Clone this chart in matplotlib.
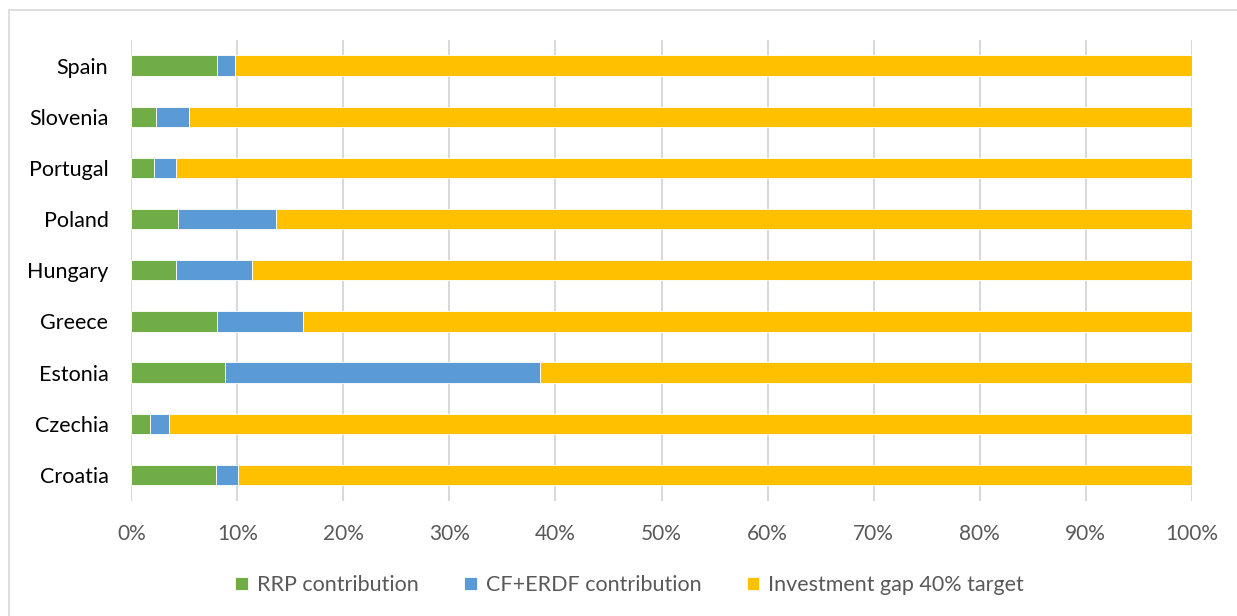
import matplotlib.pyplot as plt
import numpy as np
from matplotlib.patches import Rectangle
from matplotlib.ticker import PercentFormatter

plt.rcParams['font.family'] = ['Lato', 'DejaVu Sans']

countries = ['Croatia', 'Czechia', 'Estonia', 'Greece', 'Hungary',
             'Poland', 'Portugal', 'Slovenia', 'Spain']
rrp = [8.0, 1.8, 8.85, 8.05, 4.2, 4.45, 2.1, 2.3, 8.1]
cf_erdf = [2.1, 1.8, 29.65, 8.1, 7.15, 9.2, 2.1, 3.1, 1.65]
gap = [100 - a - b for a, b in zip(rrp, cf_erdf)]

series_names = ['RRP contribution', 'CF+ERDF contribution', 'Investment gap 40% target']
colors = ['#70ad47', '#5b9bd5', '#ffc000']

fig = plt.figure(figsize=(12.37, 6.16), dpi=100)
ax = fig.add_axes([131.3 / 1237, 1 - 500.5 / 616, (1191.7 - 131.3) / 1237, (500.5 - 40) / 616])

y = np.arange(len(countries))
left = np.zeros(len(countries))
for vals, name, col in zip([rrp, cf_erdf, gap], series_names, colors):
    ax.barh(y, vals, left=left, height=0.4, color=col, label=name,
            edgecolor='white', linewidth=0.6, zorder=3)
    left += np.array(vals)

ax.set_xlim(0, 100)
ax.set_ylim(-0.5, len(countries) - 0.5)
ax.set_yticks(y)
ax.set_yticklabels(countries, fontsize=15.5, color='#000000')
ax.set_xticks(np.arange(0, 101, 10))
ax.xaxis.set_major_formatter(PercentFormatter(decimals=0))
ax.tick_params(axis='x', labelsize=15, labelcolor='#595959', length=0, pad=17)
ax.tick_params(axis='y', length=0, pad=16.5)
ax.grid(axis='x', color='#d9d9d9', linewidth=1.5, zorder=0)
for s in ax.spines.values():
    s.set_visible(False)

ax.legend(loc='center', bbox_to_anchor=(629.5 / 1237, 1 - 585 / 616),
          bbox_transform=fig.transFigure, ncol=3, frameon=False, fontsize=15.5,
          handlelength=0.6, handleheight=0.6, handletextpad=0.42, columnspacing=2.1,
          labelcolor='#595959')

fig.patches.append(Rectangle((9 / 1237, -0.01), 1.1, 1 - 10 / 616 + 0.01,
                             transform=fig.transFigure, fill=False,
                             edgecolor='#d9d9d9', linewidth=1.2))

plt.savefig('out.png', dpi=100)
